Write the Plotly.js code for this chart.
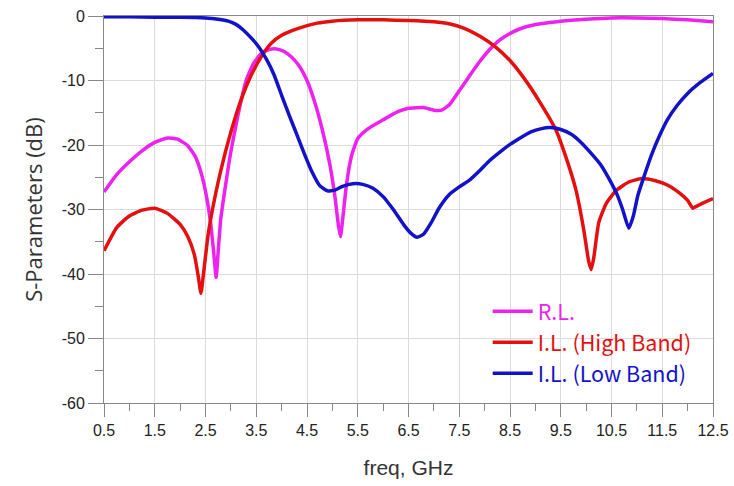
<!DOCTYPE html>
<html><head><meta charset="utf-8">
<script src="https://cdn.plot.ly/plotly-3.0.1.min.js"></script>
<style>html,body{margin:0;padding:0;background:#fff}#chart{width:734px;height:486px}</style>
</head><body><div id="chart"></div>
<script>
// R.L. (magenta)
const rlFreq = [0.5,0.75,1.0,1.25,1.5,1.75,1.95,2.15,2.3,2.42,2.52,2.6,2.66,2.71,2.75,2.8,2.9,3.0,3.15,3.3,3.45,3.6,3.75,3.9,4.05,4.2,4.35,4.5,4.65,4.8,4.95,5.05,5.12,5.16,5.21,5.28,5.38,5.5,5.68,6.0,6.3,6.5,6.8,7.0,7.15,7.3,7.5,7.7,7.9,8.1,8.3,8.55,8.8,9.1,9.5,10.0,10.5,11.0,11.5,12.0,12.5];
const rlDb   = [-27.3,-24.6,-22.6,-20.9,-19.6,-18.9,-19.1,-20.1,-21.8,-24.5,-28,-32,-36.5,-40.5,-36.5,-31.5,-26,-21,-15,-10,-7.3,-5.8,-5.2,-5.1,-5.5,-6.4,-7.8,-10,-13.3,-17.6,-23,-28,-32.5,-34.2,-31,-26,-21.6,-19,-17.6,-16.1,-14.8,-14.3,-14.2,-14.6,-14.6,-13.8,-11.6,-9.3,-7.1,-5.2,-3.7,-2.5,-1.7,-1.2,-0.8,-0.5,-0.3,-0.3,-0.4,-0.6,-0.9];
// I.L. High Band (red)
const hbFreq = [0.5,0.75,1.0,1.25,1.5,1.75,2.0,2.15,2.28,2.36,2.41,2.46,2.55,2.65,2.8,3.0,3.2,3.4,3.6,3.8,4.0,4.3,4.7,5.0,5.5,6.0,6.5,7.0,7.3,7.6,7.9,8.2,8.5,8.8,9.1,9.4,9.62,9.8,9.95,10.05,10.1,10.15,10.25,10.4,10.6,10.85,11.1,11.35,11.6,11.85,12.0,12.1,12.15,12.3,12.5];
const hbDb   = [-36.4,-32.8,-31,-30.1,-29.8,-30.6,-32.3,-34.2,-37,-40.5,-43,-40,-34,-29.5,-24,-18,-13,-9.2,-6.3,-4.2,-3,-2,-1.1,-0.8,-0.6,-0.6,-0.7,-0.9,-1.2,-1.9,-3.1,-4.7,-6.9,-9.9,-13.5,-17.6,-22.3,-27,-33,-38,-39.3,-37.5,-32,-29,-27,-25.7,-25.2,-25.5,-26.2,-27.5,-28.6,-29.8,-29.6,-29,-28.3];
// I.L. Low Band (blue)
const lbFreq = [0.5,1.0,1.5,2.0,2.5,2.75,2.95,3.1,3.25,3.4,3.55,3.7,3.85,4.0,4.15,4.3,4.45,4.6,4.75,4.9,5.05,5.2,5.4,5.6,5.8,6.0,6.2,6.4,6.55,6.67,6.8,6.95,7.1,7.3,7.5,7.71,7.9,8.1,8.3,8.5,8.7,8.9,9.1,9.3,9.5,9.7,9.9,10.1,10.3,10.45,10.6,10.72,10.84,10.93,11.02,11.14,11.3,11.45,11.6,11.8,12.0,12.25,12.5];
const lbDb   = [-0.1,-0.1,-0.2,-0.2,-0.3,-0.5,-0.8,-1.3,-2.2,-3.4,-4.8,-6.7,-9.1,-12.3,-15.4,-18.4,-21.4,-24.2,-26.3,-27.1,-27.0,-26.4,-26.0,-26.1,-26.7,-28.0,-30,-32.3,-33.7,-34.3,-33.8,-32,-29.8,-27.7,-26.5,-25.4,-24,-22.4,-21.1,-19.9,-18.9,-18.0,-17.5,-17.3,-17.6,-18.3,-19.6,-21.3,-23.2,-25.2,-27.5,-30,-32.9,-31,-27.8,-24.9,-21.3,-18.5,-16.1,-13.8,-12,-10.3,-8.9];
const xTickVals = [0.5,1.5,2.5,3.5,4.5,5.5,6.5,7.5,8.5,9.5,10.5,11.5,12.5];
const yTickVals = [0,-10,-20,-30,-40,-50,-60];
const names = ['R.L.','I.L. (High Band)','I.L. (Low Band)'];

const colors = ['#ee22ee','#e41010','#1212c8'];
const font = '"Liberation Sans", Arial, sans-serif';
const mk = (x,y,i)=>({x:x,y:y,name:names[i],type:'scatter',mode:'lines',
  line:{color:colors[i],width:3.5,shape:'spline',smoothing:0.5}});
const data = [mk(rlFreq,rlDb,0), mk(hbFreq,hbDb,1), mk(lbFreq,lbDb,2)];

const layout = {
  width:734,height:486,
  margin:{l:104,r:21,t:16,b:83},
  paper_bgcolor:'#fff',plot_bgcolor:'#fff',
  font:{family:font,size:16,color:'#222'},
  showlegend:true,
  legend:{x:0.63,y:0.29,xanchor:'left',yanchor:'top',bgcolor:'rgba(0,0,0,0)',
    font:{family:'"Noto Sans CJK TC", "Noto Sans", sans-serif',size:21.5},tracegroupgap:0,itemwidth:40},
  xaxis:{range:[0.5,12.5],tickmode:'array',tickvals:xTickVals,ticktext:xTickVals.map(v=>v.toFixed(1)),
    showgrid:true,gridcolor:'#dcdcdc',gridwidth:1,zeroline:false,
    showline:true,linecolor:'#888',linewidth:1,mirror:true,
    ticks:'outside',ticklen:13,tickcolor:'#888',
    minor:{dtick:0.5,tick0:0.5,ticks:'outside',ticklen:7,tickcolor:'#888',showgrid:false},
    tickfont:{family:font,size:16,color:'#222'},
    title:{text:'freq, GHz',font:{family:font,size:21,color:'#333'},standoff:22}},
  yaxis:{range:[-60,0],tickmode:'array',tickvals:yTickVals,ticktext:yTickVals.map(v=>String(v)),
    showgrid:true,gridcolor:'#dcdcdc',gridwidth:1,zeroline:false,
    showline:true,linecolor:'#888',linewidth:1,mirror:true,
    ticks:'outside',ticklen:15,tickcolor:'#888',
    minor:{dtick:5,tick0:0,ticks:'outside',ticklen:8,tickcolor:'#888',showgrid:false},
    tickfont:{family:font,size:16,color:'#222'},
    title:{text:'S-Parameters (dB)',font:{family:'"Open Sans", sans-serif',size:22,color:'#333'},standoff:12}}
};
Plotly.newPlot('chart',data,layout,{staticPlot:true,displayModeBar:false}).then(()=>{
  document.querySelectorAll('.legendtext').forEach((t,i)=>{t.style.fill=colors[i];});
});
</script></body></html>
